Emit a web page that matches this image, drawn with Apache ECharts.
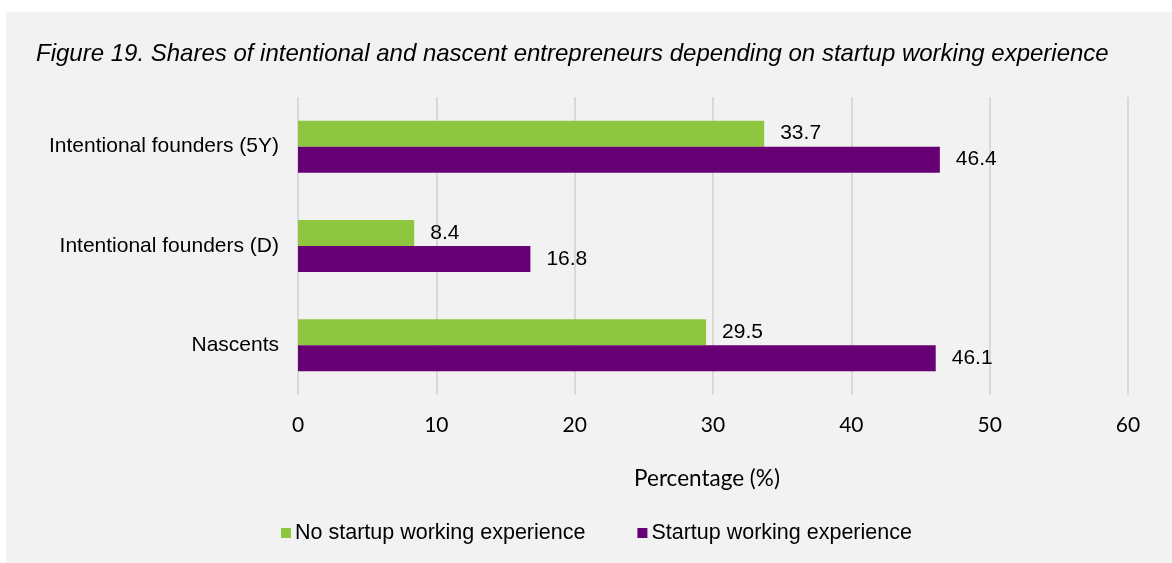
<!DOCTYPE html>
<html>
<head>
<meta charset="utf-8">
<script src="https://cdn.jsdelivr.net/npm/echarts@6/dist/echarts.min.js"></script>
<style>
  html, body { margin: 0; padding: 0; background: #ffffff; }
  #chart { width: 1172px; height: 563px; }
</style>
</head>
<body>
<div id="chart"></div>
<script>
// Categories listed bottom to top (ECharts category y-axis runs upward)
const categories = ['Nascents', 'Intentional founders (D)', 'Intentional founders (5Y)'];
const noStartupExperience = [29.5, 8.4, 33.7];
const startupExperience = [46.1, 16.8, 46.4];
const seriesNames = ['No startup working experience', 'Startup working experience'];
const titleText = 'Figure 19. Shares of intentional and nascent entrepreneurs depending on startup working experience';
const axisName = 'Percentage (%)';

const chart = echarts.init(document.getElementById('chart'), null, { renderer: 'canvas' });

const labelStyle = {
  show: true,
  position: 'right',
  distance: 16,
  color: '#000000',
  fontFamily: 'Liberation Sans, Arial, sans-serif',
  fontSize: 21,
  formatter: p => p.value.toFixed(1)
};

chart.setOption({
  animation: false,
  backgroundColor: '#ffffff',
  graphic: [{
    type: 'rect',
    z: -10,
    shape: { x: 6, y: 12, width: 1166, height: 551 },
    style: { fill: '#f2f2f2' }
  }],
  title: {
    text: titleText,
    left: 36,
    top: 42,
    padding: 0,
    textStyle: {
      fontFamily: 'Liberation Sans, Arial, sans-serif',
      fontStyle: 'italic',
      fontWeight: 'normal',
      fontSize: 24,
      color: '#000000'
    }
  },
  legend: {
    top: 522,
    left: 281,
    itemWidth: 10,
    itemHeight: 10,
    itemGap: 52,
    icon: 'rect',
    padding: 0,
    textStyle: {
      fontFamily: 'Liberation Sans, Arial, sans-serif',
      fontSize: 21.5,
      color: '#000000',
      padding: [0, 0, 0, -1]
    },
    data: seriesNames
  },
  grid: {
    left: 298,
    right: 44,
    top: 97,
    bottom: 168,
    containLabel: false
  },
  xAxis: {
    type: 'value',
    min: 0,
    max: 60,
    interval: 10,
    name: axisName,
    nameLocation: 'middle',
    nameGap: 72,
    nameTextStyle: {
      fontFamily: 'Lato, Open Sans, sans-serif',
      fontSize: 22.5,
      color: '#000000',
      padding: [0, 12, 0, 0]
    },
    axisLine: { show: false },
    axisTick: { show: false },
    axisLabel: {
      margin: 20,
      fontFamily: 'Lato, Open Sans, sans-serif',
      fontSize: 21,
      color: '#000000'
    },
    splitLine: { show: true, lineStyle: { color: '#d9d9d9', width: 2 } }
  },
  yAxis: {
    type: 'category',
    data: categories,
    axisLine: { show: false },
    axisTick: { show: false },
    axisLabel: {
      margin: 19,
      fontFamily: 'Liberation Sans, Arial, sans-serif',
      fontSize: 21,
      color: '#000000'
    }
  },
  series: [
    {
      name: seriesNames[0],
      type: 'bar',
      data: noStartupExperience,
      barWidth: 26,
      barGap: '0%',
      itemStyle: { color: '#8fc640' },
      label: labelStyle
    },
    {
      name: seriesNames[1],
      type: 'bar',
      data: startupExperience,
      barWidth: 26,
      barGap: '0%',
      itemStyle: { color: '#660074' },
      label: labelStyle
    }
  ]
});
</script>
</body>
</html>
